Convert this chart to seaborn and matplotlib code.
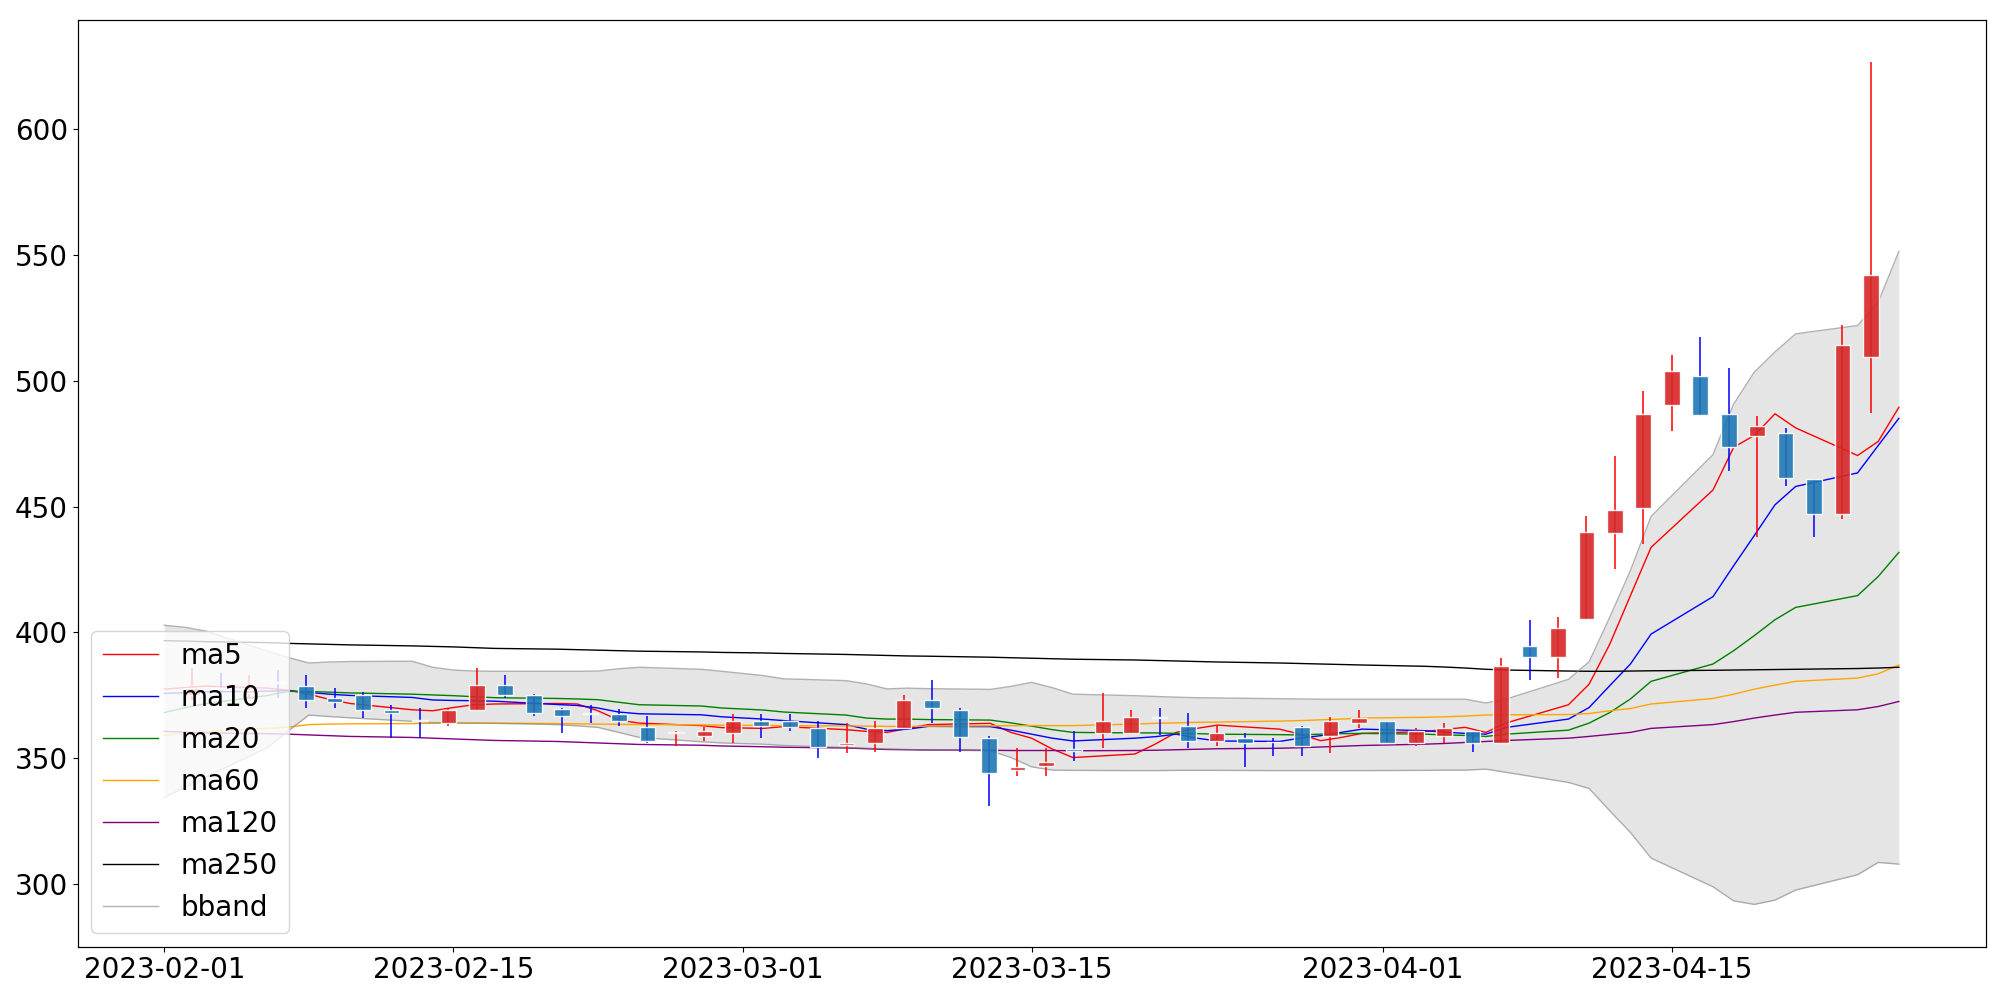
import numpy as np
import pandas as pd
import matplotlib
matplotlib.use("Agg")
import matplotlib.pyplot as plt
import matplotlib.dates as mdates
from matplotlib.ticker import MultipleLocator
import seaborn as sns

# ---------------- data ----------------
dates = pd.to_datetime([
    "2023-02-01", "2023-02-02", "2023-02-03", "2023-02-06", "2023-02-07", "2023-02-08",
    "2023-02-09", "2023-02-10", "2023-02-13", "2023-02-14", "2023-02-15", "2023-02-16",
    "2023-02-17", "2023-02-20", "2023-02-21", "2023-02-22", "2023-02-23", "2023-02-24",
    "2023-02-27", "2023-02-28", "2023-03-02", "2023-03-03", "2023-03-06", "2023-03-07",
    "2023-03-08", "2023-03-09", "2023-03-10", "2023-03-13", "2023-03-14", "2023-03-15",
    "2023-03-16", "2023-03-17", "2023-03-20", "2023-03-21", "2023-03-22", "2023-03-23",
    "2023-03-24", "2023-03-27", "2023-03-28", "2023-03-29", "2023-03-30", "2023-03-31",
    "2023-04-03", "2023-04-04", "2023-04-05", "2023-04-06", "2023-04-07", "2023-04-10",
    "2023-04-11", "2023-04-12", "2023-04-13", "2023-04-14", "2023-04-17", "2023-04-18",
    "2023-04-19", "2023-04-20", "2023-04-21", "2023-04-24", "2023-04-25", "2023-04-26",
])

open_ = [375.2, 378.0, 376.0, 380.2, 378.8, 373.7, 375.1, 369.1, 365.2, 364.0,
         369.2, 378.9, 374.9, 369.7, 368.1, 367.7, 362.5, 360.0, 358.9, 360.1,
         364.6, 364.6, 361.9, 355.0, 356.1, 362.0, 373.1, 369.1, 357.9, 345.2,
         347.0, 353.5, 360.0, 360.0, 366.5, 362.6, 356.9, 357.8, 356.5, 362.5,
         358.7, 364.0, 364.6, 356.1, 358.9, 360.6, 356.1, 394.7, 390.0, 405.3,
         439.4, 449.3, 490.3, 502.1, 487.0, 478.2, 479.2, 460.9, 447.2, 509.4]
high = [385.8, 384.0, 383.1, 385.0, 383.1, 377.8, 376.1, 371.2, 369.9, 369.9,
        385.8, 383.1, 375.5, 370.0, 371.1, 369.7, 366.7, 360.6, 362.5, 367.7,
        367.7, 367.7, 364.6, 363.8, 364.6, 375.1, 381.0, 369.9, 358.7, 353.9,
        353.9, 360.9, 375.7, 369.2, 369.9, 367.9, 362.7, 359.9, 357.9, 362.7,
        366.5, 369.2, 364.8, 361.9, 363.9, 360.8, 389.8, 404.9, 406.2, 446.3,
        470.0, 496.0, 510.4, 517.4, 505.2, 486.0, 481.2, 461.0, 522.3, 626.6]
low = [373.1, 374.1, 373.9, 373.9, 369.9, 369.9, 365.9, 358.0, 358.0, 362.6,
       368.8, 373.9, 366.7, 359.9, 363.8, 362.7, 355.8, 354.8, 356.6, 355.8,
       357.9, 360.6, 350.0, 352.0, 352.6, 361.8, 363.9, 352.6, 330.9, 342.8,
       342.8, 348.8, 354.0, 359.8, 359.0, 354.0, 354.8, 346.6, 350.8, 350.8,
       352.0, 361.9, 356.0, 354.6, 355.8, 352.6, 355.9, 381.0, 381.7, 405.0,
       425.2, 435.1, 480.1, 486.0, 464.2, 438.0, 458.2, 438.0, 445.1, 487.3]
close = [377.7, 377.6, 377.0, 380.0, 373.2, 372.1, 369.2, 368.0, 364.9, 369.1,
         378.9, 375.2, 367.9, 366.8, 367.7, 364.8, 356.9, 360.5, 360.6, 364.6,
         362.9, 362.2, 354.2, 355.8, 361.8, 373.1, 370.0, 358.2, 344.1, 346.6,
         348.6, 353.0, 364.6, 366.5, 366.1, 356.9, 359.8, 356.1, 356.2, 354.9,
         364.6, 365.9, 356.1, 360.6, 361.8, 356.1, 386.7, 390.0, 401.9, 439.7,
         448.8, 487.0, 504.1, 486.3, 473.5, 481.9, 461.2, 447.2, 514.3, 541.9]

ma5 = [377.4, 378.0, 378.6, 377.8, 377.0, 375.4, 373.3, 371.7, 369.2, 368.8,
       370.1, 371.2, 371.5, 371.7, 371.5, 368.8, 365.1, 363.9, 362.9, 362.1,
       361.8, 362.5, 361.3, 360.6, 360.2, 361.8, 363.3, 363.8, 360.2, 357.9,
       353.6, 350.2, 351.6, 355.6, 360.2, 361.8, 363.1, 361.5, 359.5, 356.9,
       358.2, 359.8, 360.5, 361.4, 362.2, 360.2, 364.0, 371.2, 379.4, 395.3,
       414.6, 433.8, 456.6, 473.6, 478.3, 486.9, 481.3, 470.3, 475.9, 489.5]
ma10 = [375.7, 376.0, 376.3, 376.6, 376.8, 376.1, 375.4, 374.9, 374.1, 373.1,
        372.9, 372.8, 372.6, 371.3, 370.9, 369.9, 368.3, 367.6, 367.2, 366.4,
        365.5, 364.9, 363.3, 361.5, 360.9, 361.5, 362.6, 362.5, 361.1, 359.5,
        357.9, 356.8, 357.9, 358.5, 359.5, 357.9, 356.8, 356.6, 357.9, 358.9,
        360.2, 361.5, 360.9, 360.3, 359.8, 359.5, 362.2, 365.5, 370.1, 378.8,
        387.4, 399.3, 414.2, 426.5, 438.5, 450.7, 458.0, 463.4, 474.3, 485.1]
ma20 = [368.1, 370.0, 371.6, 374.9, 376.5, 376.5, 376.2, 375.9, 375.4, 375.1,
        374.8, 374.4, 374.0, 373.7, 373.5, 373.2, 372.2, 371.2, 370.7, 369.9,
        369.1, 368.3, 367.1, 365.9, 365.5, 365.5, 365.3, 365.1, 364.0, 362.7,
        361.3, 360.2, 360.0, 360.0, 359.8, 359.7, 359.5, 359.3, 359.2, 359.5,
        359.7, 359.8, 359.5, 359.2, 359.0, 358.6, 359.5, 361.1, 363.9, 368.1,
        373.5, 380.5, 387.4, 392.7, 398.7, 405.0, 409.9, 414.6, 422.2, 431.8]
ma60 = [359.1, 359.8, 360.5, 361.8, 362.3, 363.3, 363.5, 363.6, 363.7, 363.8,
        363.9, 363.9, 363.9, 363.7, 363.6, 363.5, 363.4, 363.3, 363.2, 363.1,
        363.0, 362.9, 362.8, 362.7, 362.6, 362.6, 362.7, 362.8, 362.9, 362.9,
        362.9, 362.9, 363.5, 363.8, 364.0, 364.2, 364.3, 364.7, 364.9, 365.2,
        365.5, 365.9, 366.2, 366.4, 366.7, 367.1, 367.2, 367.3, 367.7, 368.8,
        369.7, 371.5, 373.7, 375.4, 377.4, 379.0, 380.5, 381.8, 383.5, 387.0]
ma120 = [360.6, 360.3, 360.0, 359.7, 359.5, 359.2, 358.9, 358.6, 358.2, 357.9,
         357.6, 357.3, 357.0, 356.6, 356.3, 356.0, 355.7, 355.4, 355.1, 354.8,
         354.5, 354.3, 354.0, 353.7, 353.4, 353.3, 353.2, 353.1, 353.0, 353.0,
         353.0, 352.9, 353.0, 353.1, 353.3, 353.5, 353.7, 353.9, 354.1, 354.4,
         354.7, 355.0, 355.5, 355.8, 356.2, 356.6, 357.0, 357.9, 358.6, 359.4,
         360.2, 361.8, 363.3, 364.5, 365.9, 367.1, 368.2, 369.2, 370.5, 372.5]
ma250 = [396.7, 396.5, 396.3, 395.9, 395.6, 395.4, 395.2, 395.0, 394.6, 394.4,
         394.2, 393.9, 393.6, 393.3, 393.1, 392.9, 392.7, 392.5, 392.2, 392.0,
         391.8, 391.6, 391.2, 391.0, 390.8, 390.6, 390.5, 390.1, 389.9, 389.7,
         389.5, 389.3, 389.0, 388.8, 388.6, 388.4, 388.2, 387.8, 387.6, 387.4,
         387.2, 387.0, 386.5, 386.2, 385.8, 385.3, 385.0, 384.6, 384.5, 384.5,
         384.6, 384.7, 384.9, 385.0, 385.1, 385.2, 385.3, 385.6, 385.8, 386.1]
bb_upper = [402.8, 402.0, 400.5, 392.5, 390.0, 387.8, 388.2, 388.4, 388.5, 386.1,
            385.0, 384.6, 384.5, 384.5, 384.5, 384.6, 385.5, 386.1, 385.3, 384.5,
            382.8, 381.5, 380.8, 379.5, 377.5, 377.8, 377.6, 377.3, 378.5, 380.1,
            378.0, 375.4, 374.8, 374.5, 374.2, 374.0, 373.9, 373.6, 373.5, 373.4,
            373.4, 373.4, 373.4, 373.4, 373.4, 371.9, 373.5, 381.3, 388.3, 406.0,
            424.6, 446.1, 470.7, 490.8, 503.5, 511.5, 518.7, 522.0, 531.3, 551.5]
bb_lower = [334.3, 338.4, 342.4, 354.2, 360.8, 367.1, 366.5, 366.0, 364.6, 364.1,
            364.0, 363.9, 363.8, 363.3, 362.8, 362.2, 360.2, 358.2, 356.5, 356.0,
            355.5, 355.0, 354.2, 353.9, 353.6, 353.4, 353.2, 352.9, 350.2, 346.5,
            345.2, 345.1, 345.0, 345.0, 345.1, 345.1, 345.1, 345.0, 345.0, 345.0,
            345.0, 345.0, 345.1, 345.2, 345.2, 345.6, 344.3, 340.3, 337.9, 329.0,
            320.4, 310.2, 298.8, 293.2, 291.8, 293.5, 297.5, 303.6, 308.5, 307.8]

ma_series = [("ma5", ma5, "red"), ("ma10", ma10, "blue"), ("ma20", ma20, "green"),
             ("ma60", ma60, "orange"), ("ma120", ma120, "purple"), ("ma250", ma250, "black")]

# ---------------- figure ----------------
fig, ax = plt.subplots(figsize=(20, 10), dpi=100)
fig.subplots_adjust(left=0.0388, right=0.9928, bottom=0.0535, top=0.9796)

for name, vals, col in ma_series:
    sns.lineplot(x=dates, y=vals, ax=ax, color=col, linewidth=1, label=name)

ax.fill_between(dates, bb_lower, bb_upper, color="gray", alpha=0.2, linewidth=0)
sns.lineplot(x=dates, y=bb_upper, ax=ax, color="gray", linewidth=1, alpha=0.6, label="bband")
sns.lineplot(x=dates, y=bb_lower, ax=ax, color="gray", linewidth=1, alpha=0.6)
if ax.get_legend() is not None:
    ax.get_legend().remove()

# candles on a twin axis indexed by trading day
ax2 = ax.twiny()
o = np.array(open_); c = np.array(close); h = np.array(high); l = np.array(low)
idx = np.arange(len(o))
up = c >= o
wick_cols = np.where(up, "red", "blue")
body_cols = np.where(up, "tab:red", "tab:blue")
ax2.vlines(idx, l, h, colors=wick_cols, linewidth=1.1, zorder=2)
body_h = np.maximum(np.abs(c - o), 0.3)
ax2.bar(idx, body_h, bottom=np.minimum(o, c), width=0.55, color=body_cols,
        alpha=0.9, edgecolor="white", linewidth=1, zorder=3)
ax2.set_xlim(-4.03, len(o) - 1 + 4.03)
ax2.set_xticks([])
ax2.tick_params(top=False, labeltop=False)

# axes styling
lo = min(min(bb_lower), min(low)); hi = max(max(bb_upper), max(high))
pad = 0.05 * (hi - lo)
ax.set_ylim(lo - pad, hi + pad)
ax.yaxis.set_major_locator(MultipleLocator(50))
ax.xaxis.set_major_locator(mdates.DayLocator(bymonthday=[1, 15]))
ax.xaxis.set_major_formatter(mdates.DateFormatter("%Y-%m-%d"))
ax.tick_params(axis="both", labelsize=20)
ax.set_xlabel(""); ax.set_ylabel("")

handles, labels = ax.get_legend_handles_labels()
ax2.legend(handles, labels, loc="lower left", fontsize=20)

fig.savefig("out.png", dpi=100)
